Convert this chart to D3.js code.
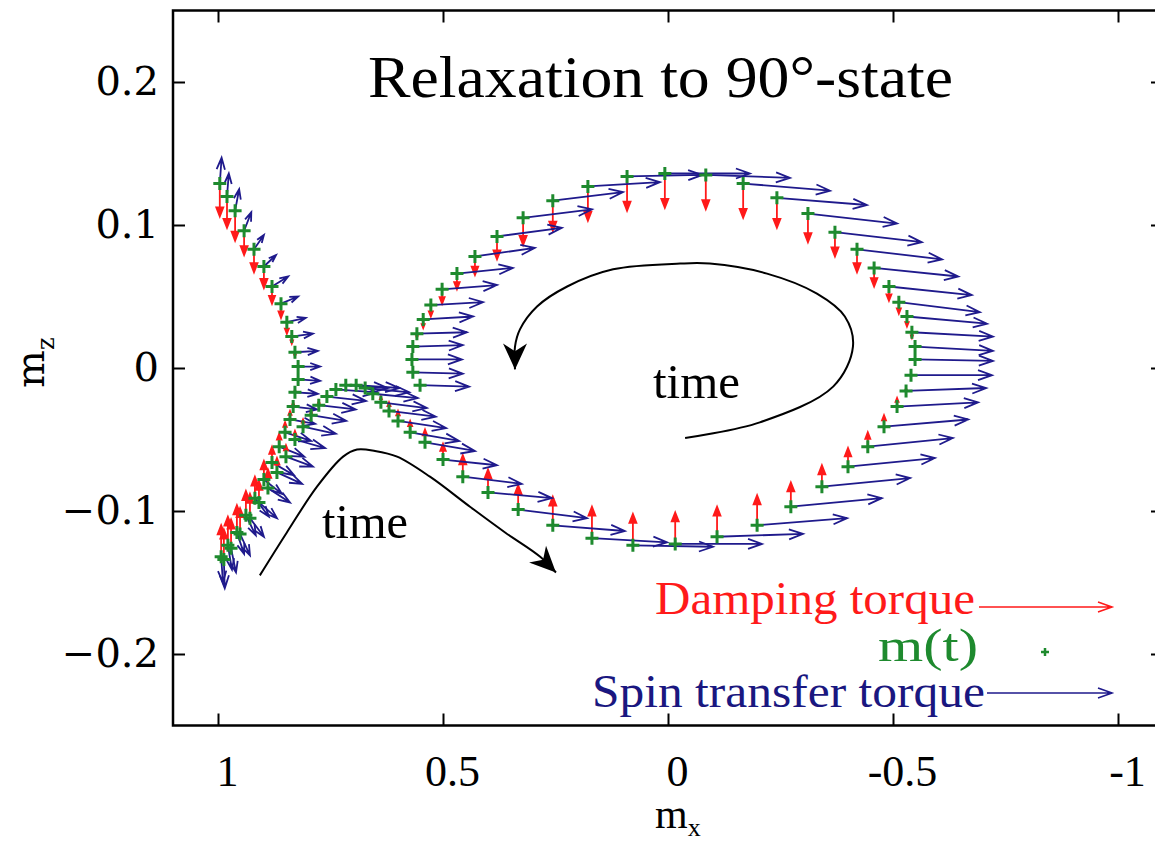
<!DOCTYPE html>
<html lang="en">
<head>
<meta charset="UTF-8">
<title>Relaxation to 90°-state</title>
<script src="https://cdn.jsdelivr.net/npm/d3@7"></script>
<style>
body { margin: 0; background: #fff; }
svg { display: block; }
</style>
</head>
<body>
<svg id="chart" width="1155" height="844"></svg>
<script>
// ---- data (m_x, m_z and torque components) ----
const xTicks = [1, 0.5, 0, -0.5, -1]
const yTicks = [0.2, 0.1, 0, -0.1, -0.2]

// branch that starts near m_z = +0.13
const upperMx = [0.996, 0.980, 0.962, 0.942, 0.920, 0.898, 0.880, 0.860, 0.847, 0.836, 0.829, 0.822, 0.822, 0.829, 0.833, 0.840,
                 0.851, 0.864, 0.880, 0.898, 0.918, 0.938, 0.958, 0.978, 0.993]
const upperMz = [0.129, 0.120, 0.110, 0.096, 0.083, 0.071, 0.057, 0.045, 0.032, 0.022, 0.011, 0.001, -0.008, -0.017, -0.027, -0.036,
                 -0.045, -0.055, -0.066, -0.078, -0.091, -0.103, -0.115, -0.124, -0.132]
const upperSttX = [-0.004, -0.004, -0.009, -0.016, -0.022, -0.027, -0.036, -0.038, -0.042, -0.047, -0.051, -0.049, -0.049, -0.051, -0.053, -0.056,
                   -0.058, -0.056, -0.049, -0.040, -0.031, -0.022, -0.016, -0.009, -0.004]
const upperSttZ = [0.018, 0.016, 0.015, 0.013, 0.010, 0.008, 0.007, 0.005, 0.003, 0.002, 0.001, 0, -0.001, -0.001, -0.002, -0.003,
                   -0.006, -0.007, -0.009, -0.010, -0.013, -0.014, -0.015, -0.017, -0.018]
const upperDampZ = [-0.023, -0.022, -0.021, -0.017, -0.016, -0.015, -0.012, -0.010, -0.008, -0.005, -0.003, 0, 0, 0.002, 0.003, 0.006,
                    0.007, 0.009, 0.011, 0.013, 0.015, 0.017, 0.019, 0.020, 0.022]

// main trajectory: from m_z = -0.13 over the hump, then round the loop
const mainMx = [0.987, 0.971, 0.951, 0.929, 0.909, 0.889, 0.869, 0.849, 0.829, 0.811, 0.793, 0.776, 0.758, 0.738, 0.716,
                0.693, 0.673, 0.656, 0.638, 0.620, 0.600, 0.573, 0.540, 0.500, 0.456, 0.400, 0.333, 0.256, 0.169, 0.078,
                -0.016, -0.109, -0.198, -0.273, -0.342, -0.400, -0.444, -0.480, -0.509, -0.529, -0.540, -0.549, -0.549, -0.542, -0.531,
                -0.513, -0.491, -0.458, -0.420, -0.371, -0.311, -0.242, -0.167, -0.084, 0.007, 0.091, 0.178, 0.256, 0.322, 0.380,
                0.429, 0.469, 0.502, 0.527, 0.544, 0.558, 0.567, 0.569, 0.567, 0.551]
const mainMz = [-0.134, -0.126, -0.116, -0.105, -0.094, -0.084, -0.073, -0.062, -0.050, -0.041, -0.033, -0.026, -0.020, -0.015, -0.012,
                -0.012, -0.014, -0.018, -0.024, -0.030, -0.037, -0.045, -0.052, -0.064, -0.076, -0.087, -0.099, -0.110, -0.119, -0.124,
                -0.123, -0.118, -0.110, -0.097, -0.083, -0.069, -0.055, -0.041, -0.027, -0.016, -0.005, 0.006, 0.015, 0.025, 0.036,
                0.046, 0.057, 0.070, 0.083, 0.095, 0.108, 0.119, 0.129, 0.135, 0.136, 0.134, 0.127, 0.117, 0.105, 0.092,
                0.078, 0.066, 0.055, 0.044, 0.034, 0.024, 0.015, 0.006, -0.003, -0.012]
const mainSttX = [-0.002, -0.011, -0.022, -0.031, -0.040, -0.049, -0.056, -0.060, -0.067, -0.073, -0.078, -0.082, -0.087, -0.091, -0.093,
                  -0.096, -0.098, -0.100, -0.102, -0.104, -0.107, -0.109, -0.111, -0.120, -0.131, -0.142, -0.153, -0.160, -0.167, -0.178,
                  -0.193, -0.191, -0.200, -0.202, -0.196, -0.193, -0.189, -0.187, -0.180, -0.178, -0.180, -0.173, -0.173, -0.180, -0.178,
                  -0.180, -0.184, -0.187, -0.189, -0.193, -0.198, -0.200, -0.193, -0.187, -0.189, -0.167, -0.160, -0.156, -0.153, -0.144,
                  -0.133, -0.124, -0.122, -0.116, -0.111, -0.111, -0.111, -0.111, -0.111, -0.109]
const mainSttZ = [-0.020, -0.017, -0.015, -0.013, -0.011, -0.010, -0.008, -0.007, -0.006, -0.005, -0.004, -0.003, -0.003, -0.002, -0.002,
                  -0.002, -0.003, -0.003, -0.004, -0.004, -0.005, -0.006, -0.006, -0.004, -0.005, -0.004, -0.006, -0.004, -0.003, -0.001,
                  0, 0.002, 0.005, 0.006, 0.006, 0.006, 0.006, 0.005, 0.003, 0.002, 0, -0.001, -0.003, -0.003, -0.005,
                  -0.007, -0.006, -0.006, -0.007, -0.007, -0.007, -0.005, -0.005, -0.002, 0, 0.001, 0.003, 0.006, 0.006, 0.006,
                  0.006, 0.004, 0.003, 0.002, 0.002, 0.001, 0.001, 0, -0.001, -0.001]
const mainDampZ = [0.021, 0.020, 0.018, 0.017, 0.015, 0.013, 0.010, 0.008, 0.006, 0.005, 0.003, 0.003, 0.002, 0.001, 0.001,
                   0.001, 0.001, 0.003, 0.004, 0.006, 0.007, 0.008, 0.009, 0.011, 0.015, 0.016, 0.017, 0.020, 0.022, 0.022,
                   0.022, 0.021, 0.021, 0.017, 0.015, 0.013, 0.010, 0.008, 0.006, 0.002, 0, 0, 0, -0.004, -0.007,
                   -0.008, -0.010, -0.013, -0.016, -0.017, -0.020, -0.021, -0.024, -0.024, -0.024, -0.024, -0.024, -0.021, -0.019, -0.016,
                   -0.013, -0.011, -0.010, -0.008, -0.006, -0.003, -0.001, 0, 0, 0]

// hand-drawn "time" guides
const hookMx = [0.907, 0.847, 0.780, 0.722, 0.691, 0.651, 0.602, 0.529, 0.440, 0.362, 0.284, 0.249]
const hookMz = [-0.145, -0.115, -0.083, -0.062, -0.057, -0.058, -0.062, -0.076, -0.097, -0.115, -0.132, -0.143]
const loopMx = [-0.038, -0.204, -0.367, -0.411, -0.393, -0.331, -0.220, -0.093, -0.027, 0.122, 0.224, 0.291, 0.329, 0.340, 0.340]
const loopMz = [-0.049, -0.038, -0.013, 0.015, 0.036, 0.052, 0.066, 0.073, 0.073, 0.069, 0.057, 0.043, 0.027, 0.015, -0.001]

const RED = "#ff1a1a", BLUE = "#1f1a8c", GREEN = "#1e8a2e"

const svg = d3.select("#chart")
const x = d3.scaleLinear().domain([1.1, -1.1]).range([173, 1163])
const y = d3.scaleLinear().domain([-0.25, 0.25]).range([725.5, 10.5])

// axes with inward ticks on all four sides
function styleAxis(g) {
    g.select(".domain").remove()
    g.selectAll("line").attr("stroke", "#000").attr("stroke-width", 2)
}
svg.append("g").attr("transform", "translate(0,725.5)")
    .call(d3.axisBottom(x).tickValues(xTicks).tickSize(-12).tickPadding(29).tickFormat(d => String(d)))
    .call(styleAxis)
    .call(g => g.selectAll("text").attr("font-family", "'Liberation Serif', 'Times New Roman', serif")
        .attr("font-size", 44).attr("dx", 9).attr("fill", "#000"))
svg.append("g").attr("transform", "translate(0,10.5)")
    .call(d3.axisTop(x).tickValues(xTicks).tickSize(-12).tickFormat(""))
    .call(styleAxis)
svg.append("g").attr("transform", "translate(173,0)")
    .call(d3.axisLeft(y).tickValues(yTicks).tickSize(-12).tickPadding(14)
        .tickFormat(d => d < 0 ? "\u2212" + String(-d) : String(d)))
    .call(styleAxis)
    .call(g => g.selectAll("text").attr("font-family", "'DejaVu Serif', serif")
        .attr("font-size", 40).attr("fill", "#000"))
svg.append("g").attr("transform", "translate(1163,0)")
    .call(d3.axisRight(y).tickValues(yTicks).tickSize(-12).tickFormat(""))
    .call(styleAxis)

svg.append("rect").attr("x", 173).attr("y", 10.5).attr("width", 990).attr("height", 715)
    .attr("fill", "none").attr("stroke", "#000").attr("stroke-width", 2.5)

// axis titles
const xl = svg.append("text").attr("x", 655).attr("y", 828)
    .attr("font-family", "'Liberation Serif', serif").attr("font-size", 42)
xl.append("tspan").text("m")
xl.append("tspan").attr("font-size", 26).attr("dy", 8).text("x")
const yl = svg.append("text").attr("transform", "translate(44,388) rotate(-90)")
    .attr("font-family", "'DejaVu Serif', serif").attr("font-size", 40)
yl.append("tspan").text("m")
yl.append("tspan").attr("font-size", 24).attr("dy", 10).text("z")

svg.append("text").attr("x", 368).attr("y", 97).attr("textLength", 585).attr("lengthAdjust", "spacingAndGlyphs")
    .attr("font-family", "'Liberation Serif', serif").attr("font-size", 60).text("Relaxation to 90°-state")

// arrow helper: open head (blue) or filled head (red)
function arrowPath(x1, y1, x2, y2, hl, hw, filled) {
    const dx = x2 - x1, dy = y2 - y1, len = Math.hypot(dx, dy)
    if (len < 1) return ""
    const ux = dx / len, uy = dy / len
    const h = Math.min(hl, len * 0.45), w = hw * h / hl
    const bx = x2 - ux * h, by = y2 - uy * h
    const lx = bx - uy * w, ly = by + ux * w, rx = bx + uy * w, ry = by - ux * w
    if (filled) return `M${x1},${y1}L${bx},${by}M${lx},${ly}L${x2},${y2}L${rx},${ry}Z`
    return `M${x1},${y1}L${x2},${y2}M${lx},${ly}L${x2},${y2}L${rx},${ry}`
}

function drawSeries(mx, mz, sttX, sttZ, dampZ) {
    const idx = d3.range(mx.length)
    const g = svg.append("g")
    g.selectAll(".damp").data(idx).enter().append("path")
        .attr("d", i => arrowPath(x(mx[i]), y(mz[i]), x(mx[i]), y(mz[i] + dampZ[i]), 9, 3.5, true))
        .attr("stroke", RED).attr("fill", RED).attr("stroke-width", 1.8)
    g.selectAll(".stt").data(idx).enter().append("path")
        .attr("d", i => arrowPath(x(mx[i]), y(mz[i]), x(mx[i] + sttX[i]), y(mz[i] + sttZ[i]), 14, 5, false))
        .attr("stroke", BLUE).attr("fill", "none").attr("stroke-width", 1.8)
    return g
}
function drawCrosses(mx, mz) {
    svg.append("g").selectAll("path").data(d3.range(mx.length)).enter().append("path")
        .attr("d", i => { const cx = x(mx[i]), cy = y(mz[i]); return `M${cx - 6.5},${cy}H${cx + 6.5}M${cx},${cy - 6.5}V${cy + 6.5}` })
        .attr("stroke", GREEN).attr("stroke-width", 3)
}
drawSeries(upperMx, upperMz, upperSttX, upperSttZ, upperDampZ)
drawSeries(mainMx, mainMz, mainSttX, mainSttZ, mainDampZ)
drawCrosses(upperMx, upperMz)
drawCrosses(mainMx, mainMz)

// "time" guide curves with filled heads
function guide(mx, mz) {
    const pts = mx.map((v, i) => [x(v), y(mz[i])])
    const n = pts.length
    svg.append("path").attr("d", d3.line().curve(d3.curveCatmullRom)(pts))
        .attr("fill", "none").attr("stroke", "#000").attr("stroke-width", 2)
    const [x1, y1] = pts[n - 2], [x2, y2] = pts[n - 1]
    const dx = x2 - x1, dy = y2 - y1, len = Math.hypot(dx, dy), ux = dx / len, uy = dy / len
    const hl = 26, hw = 12, bx = x2 - ux * hl, by = y2 - uy * hl
    const nx = x2 - ux * hl * 0.7, ny = y2 - uy * hl * 0.7
    svg.append("path")
        .attr("d", `M${x2},${y2}L${bx - uy * hw},${by + ux * hw}L${nx},${ny}L${bx + uy * hw},${by - ux * hw}Z`)
        .attr("fill", "#000")
}
guide(hookMx, hookMz)
guide(loopMx, loopMz)
svg.append("text").attr("x", 653).attr("y", 398).attr("textLength", 87).attr("lengthAdjust", "spacingAndGlyphs")
    .attr("font-family", "'Liberation Serif', serif").attr("font-size", 48).text("time")
svg.append("text").attr("x", 322).attr("y", 538).attr("textLength", 86).attr("lengthAdjust", "spacingAndGlyphs")
    .attr("font-family", "'Liberation Serif', serif").attr("font-size", 48).text("time")

// legend
const lg = svg.append("g").attr("font-family", "'Liberation Serif', serif").attr("font-size", 46)
lg.append("text").attr("x", 655).attr("y", 614).attr("textLength", 320).attr("lengthAdjust", "spacingAndGlyphs")
    .attr("fill", RED).text("Damping torque")
lg.append("text").attr("x", 878).attr("y", 661).attr("textLength", 100).attr("lengthAdjust", "spacingAndGlyphs")
    .attr("fill", GREEN).text("m(t)")
lg.append("text").attr("x", 592).attr("y", 707).attr("textLength", 393).attr("lengthAdjust", "spacingAndGlyphs")
    .attr("fill", "#1a1780").text("Spin transfer torque")
lg.append("path").attr("d", arrowPath(979, 607, 1112, 607, 14, 5, false)).attr("stroke", RED).attr("fill", "none").attr("stroke-width", 1.6)
lg.append("path").attr("d", arrowPath(987, 693, 1112, 693, 14, 5, false)).attr("stroke", BLUE).attr("fill", "none").attr("stroke-width", 1.6)
lg.append("path").attr("d", "M1041,652H1049M1045,648V656").attr("stroke", GREEN).attr("stroke-width", 2.5)
</script>
</body>
</html>
